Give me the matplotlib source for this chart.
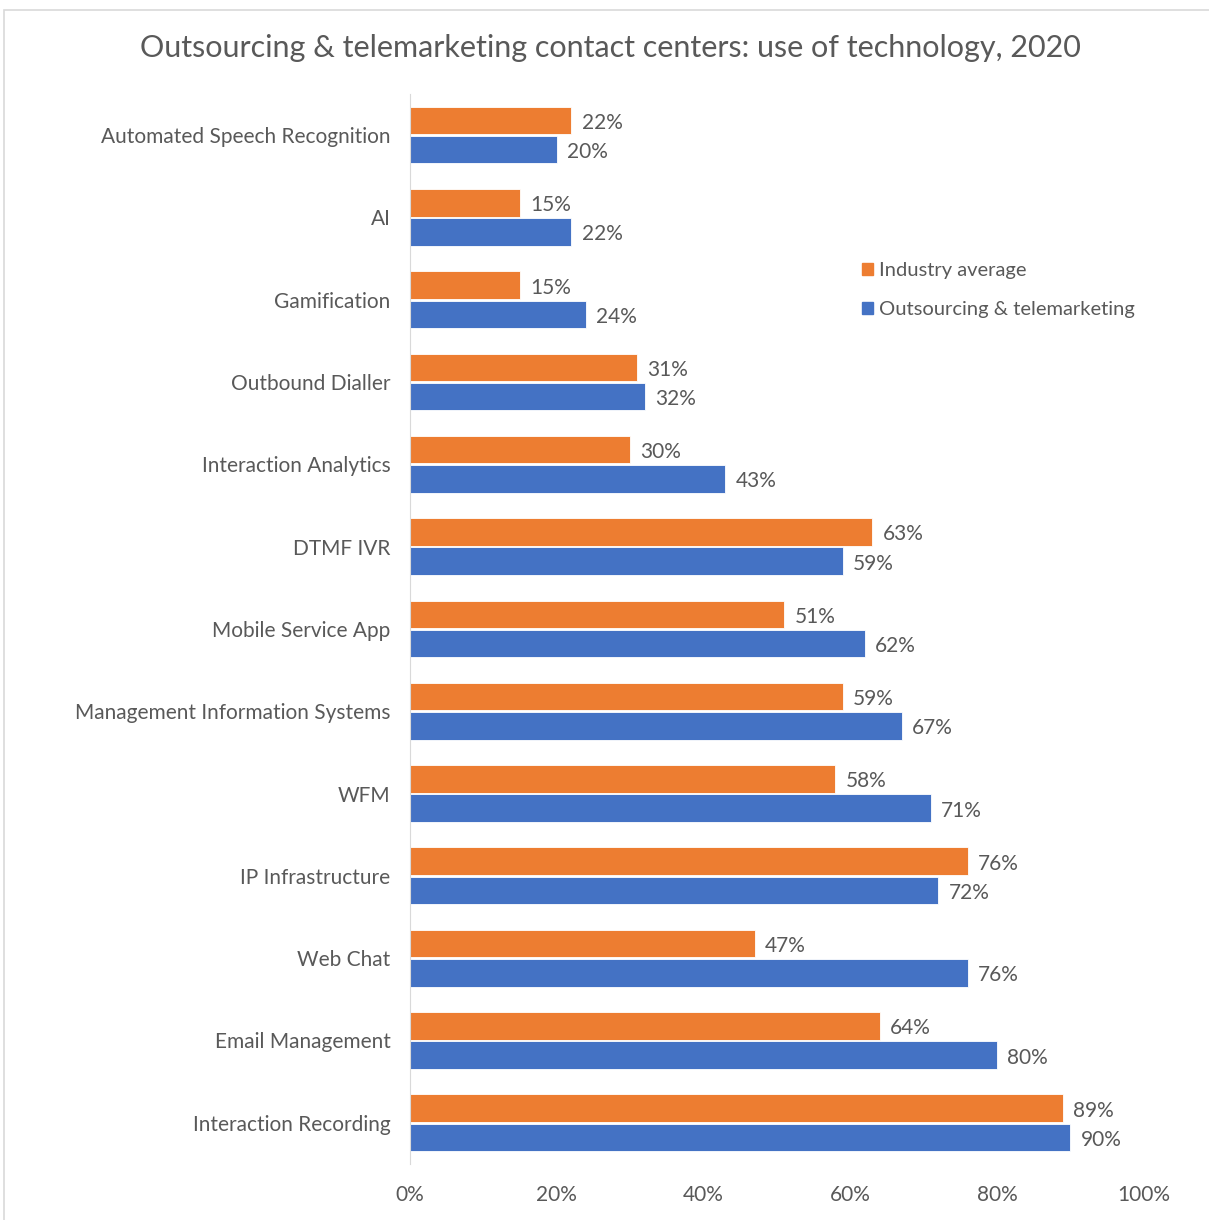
import numpy as np
import matplotlib.pyplot as plt
from matplotlib.patches import Patch, Rectangle
from matplotlib.ticker import PercentFormatter

categories = ["Automated Speech Recognition", "AI", "Gamification", "Outbound Dialler",
              "Interaction Analytics", "DTMF IVR", "Mobile Service App",
              "Management Information Systems", "WFM", "IP Infrastructure", "Web Chat",
              "Email Management", "Interaction Recording"]
industry = [22, 15, 15, 31, 30, 63, 51, 59, 58, 76, 47, 64, 89]
outsourcing = [20, 22, 24, 32, 43, 59, 62, 67, 71, 72, 76, 80, 90]
series_names = ["Industry average", "Outsourcing & telemarketing"]

ORANGE = "#ED7D31"
BLUE = "#4472C4"
GREY = "#595959"

plt.rcParams['font.family'] = ['Lato', 'DejaVu Sans']

fig = plt.figure(figsize=(12.09, 12.20), dpi=100)
ax = fig.add_axes([0.339, 0.046, 0.607, 0.877])

# light frame around the chart area
fig.patches.append(Rectangle((0.0035, -0.01), 1.1, 1.002, transform=fig.transFigure,
                             fill=False, edgecolor="#D9D9D9", lw=1.2))

y = np.arange(len(categories))
h = 0.335
ax.barh(y - h / 2 - 0.01, industry, height=h, color=ORANGE, edgecolor="white", lw=0.6)
ax.barh(y + h / 2 + 0.01, outsourcing, height=h, color=BLUE, edgecolor="white", lw=0.6)

for i in range(len(categories)):
    ax.text(industry[i] + 1.4, y[i] - h / 2 + 0.02, f"{industry[i]}%", va="center",
            ha="left", fontsize=15, color=GREY)
    ax.text(outsourcing[i] + 1.4, y[i] + h / 2 + 0.04, f"{outsourcing[i]}%", va="center",
            ha="left", fontsize=15, color=GREY)

ax.set_xlim(0, 100)
ax.set_ylim(len(categories) - 0.5, -0.5)
ax.set_yticks(y)
ax.set_yticklabels(categories, fontsize=15, color=GREY)
ax.set_xticks(np.arange(0, 101, 20))
ax.xaxis.set_major_formatter(PercentFormatter(decimals=0))
ax.tick_params(axis="x", length=0, labelsize=15, labelcolor=GREY, pad=15)
ax.tick_params(axis="y", length=0, pad=14)
for s in ["top", "right", "bottom"]:
    ax.spines[s].set_visible(False)
ax.spines["left"].set_color("#D9D9D9")

fig.text(0.505, 0.961, "Outsourcing & telemarketing contact centers: use of technology, 2020",
         ha="center", va="center", fontsize=22, color=GREY)

handles = [Patch(color=ORANGE), Patch(color=BLUE)]
fig.legend(handles, series_names, loc="upper left", bbox_to_anchor=(0.698, 0.8),
           frameon=False, fontsize=14.5, labelcolor=GREY, handlelength=0.55,
           handleheight=0.55, handletextpad=0.3, labelspacing=1.1)

fig.savefig("out.png", dpi=100)
